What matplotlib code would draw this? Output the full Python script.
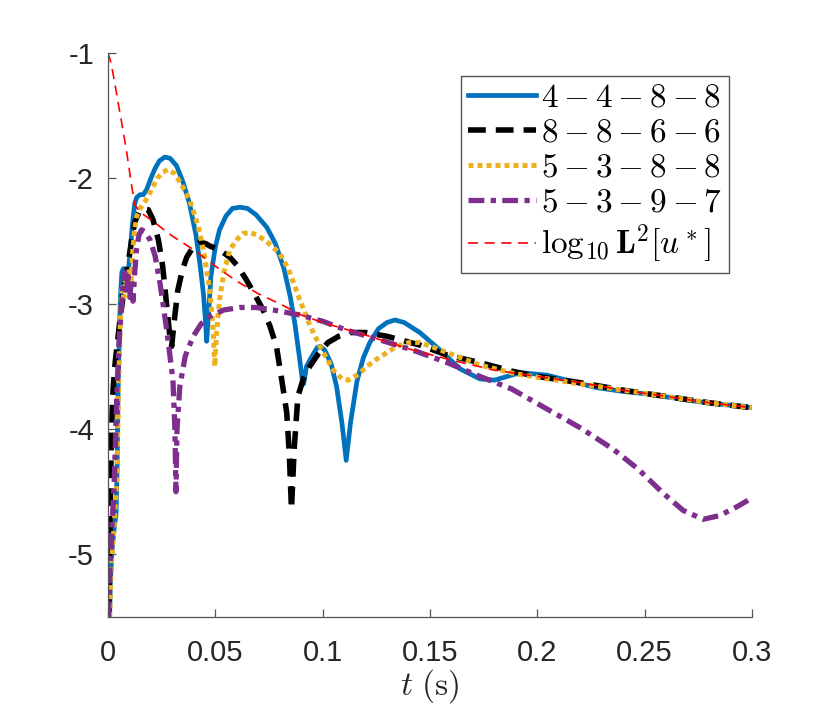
import numpy as np
import matplotlib
matplotlib.use("Agg")
import matplotlib.pyplot as plt

plt.rcParams["font.family"] = ["Liberation Sans", "DejaVu Sans"]
plt.rcParams["mathtext.fontset"] = "cm"
plt.rcParams["axes.unicode_minus"] = False

# 4-4-8-8
t_blue = [0.0008, 0.0012, 0.002, 0.003, 0.0038, 0.0043, 0.0047, 0.0052, 0.0058, 0.0065,
          0.0072, 0.008, 0.0088, 0.0095, 0.0105, 0.0115, 0.0125, 0.0135, 0.015, 0.0165,
          0.018, 0.02, 0.022, 0.024, 0.0265, 0.029, 0.032, 0.035, 0.038, 0.041,
          0.043, 0.0445, 0.0455, 0.046, 0.0468, 0.048, 0.05, 0.052, 0.055, 0.058,
          0.0615, 0.065, 0.069, 0.074, 0.078, 0.082, 0.085, 0.087, 0.089, 0.0905,
          0.0912, 0.0925, 0.095, 0.0975, 0.099, 0.101, 0.104, 0.1065, 0.109, 0.111,
          0.113, 0.116, 0.119, 0.122, 0.126, 0.13, 0.1337, 0.138, 0.1453, 0.1547,
          0.164, 0.1733, 0.18, 0.186, 0.192, 0.2045, 0.216, 0.2277, 0.24, 0.251,
          0.2743, 0.3]
y_blue = [-5.5, -5.2, -4.95, -4.78, -4.68, -4.3, -3.75, -3.35, -2.95, -2.75,
          -2.72, -2.8, -2.83, -2.75, -2.55, -2.35, -2.2, -2.15, -2.13, -2.13,
          -2.09, -2.0, -1.92, -1.86, -1.83, -1.84, -1.9, -2.03, -2.2, -2.45,
          -2.7, -2.92, -3.15, -3.3, -3.1, -2.78, -2.55, -2.41, -2.3, -2.24,
          -2.23, -2.24, -2.29, -2.39, -2.52, -2.72, -2.95, -3.15, -3.4, -3.6,
          -3.64, -3.5, -3.42, -3.35, -3.34, -3.37, -3.48, -3.66, -3.95, -4.25,
          -3.95, -3.62, -3.43, -3.31, -3.2, -3.15, -3.13, -3.15, -3.23, -3.37,
          -3.52, -3.6, -3.61, -3.58, -3.55, -3.57, -3.62, -3.67, -3.7, -3.72,
          -3.78, -3.83]

# 8-8-6-6
t_black = [0.0003, 0.0008, 0.0012, 0.0016, 0.002, 0.0025, 0.0035, 0.0045, 0.0056, 0.007,
           0.0082, 0.0095, 0.011, 0.0125, 0.0145, 0.0165, 0.0188, 0.021, 0.0235, 0.0255,
           0.0273, 0.0288, 0.0297, 0.0308, 0.0326, 0.0347, 0.0367, 0.04, 0.0428, 0.0455,
           0.0475, 0.052, 0.0568, 0.0605, 0.0645, 0.0685, 0.0723, 0.0755, 0.0785, 0.081,
           0.0833, 0.0845, 0.0855, 0.0868, 0.0885, 0.091, 0.094, 0.098, 0.1025, 0.1075,
           0.1127, 0.12, 0.13, 0.1453, 0.158, 0.1733, 0.1887, 0.2, 0.22, 0.24,
           0.26, 0.28, 0.3]
y_black = [-5.5, -5.0, -4.5, -4.1, -3.85, -3.66, -3.45, -3.3, -3.13, -2.95,
           -2.8, -2.67, -2.5, -2.35, -2.27, -2.24, -2.25, -2.33, -2.49, -2.7,
           -3.0, -3.25, -3.34, -3.15, -2.89, -2.73, -2.63, -2.54, -2.51, -2.52,
           -2.54, -2.57, -2.63, -2.7, -2.81, -2.93, -3.05, -3.18, -3.34, -3.61,
           -3.87, -4.2, -4.64, -4.15, -3.74, -3.6, -3.5, -3.4, -3.31, -3.26,
           -3.23, -3.23, -3.26, -3.33, -3.41, -3.47, -3.54, -3.58, -3.63, -3.69,
           -3.74, -3.79, -3.83]

# 5-3-8-8
t_yellow = [0.0008, 0.0015, 0.003, 0.0042, 0.0048, 0.0055, 0.0062, 0.0068, 0.0075, 0.0082,
            0.009, 0.0098, 0.0106, 0.0115, 0.0125, 0.0135, 0.015, 0.0175, 0.02, 0.023,
            0.0255, 0.028, 0.031, 0.034, 0.038, 0.041, 0.043, 0.045, 0.0475, 0.049,
            0.0498, 0.0505, 0.052, 0.054, 0.0568, 0.06, 0.063, 0.066, 0.069, 0.073,
            0.077, 0.08, 0.084, 0.0894, 0.094, 0.0988, 0.105, 0.109, 0.112, 0.116,
            0.1236, 0.1345, 0.14, 0.1453, 0.152, 0.158, 0.1733, 0.19, 0.2012, 0.22,
            0.24, 0.26, 0.28, 0.3]
y_yellow = [-5.5, -5.1, -4.75, -4.4, -3.8, -3.3, -2.95, -2.85, -2.95, -2.78,
            -2.9, -2.72, -2.88, -2.6, -2.4, -2.3, -2.24, -2.18, -2.1, -2.0,
            -1.95, -1.93, -1.96, -2.04, -2.17, -2.32, -2.45, -2.62, -2.9, -3.2,
            -3.5, -3.25, -2.97, -2.75, -2.57, -2.49, -2.44, -2.43, -2.45, -2.49,
            -2.55, -2.6, -2.72, -2.97, -3.17, -3.34, -3.53, -3.6, -3.61, -3.57,
            -3.46, -3.34, -3.31, -3.31, -3.35, -3.39, -3.49, -3.56, -3.59, -3.64,
            -3.69, -3.74, -3.79, -3.83]

# 5-3-9-7
t_purple = [0.0003, 0.001, 0.002, 0.003, 0.0042, 0.0052, 0.0065, 0.0072, 0.0079, 0.0086,
            0.0093, 0.0102, 0.011, 0.0117, 0.0125, 0.0133, 0.0145, 0.0157, 0.0175, 0.0196,
            0.022, 0.0243, 0.026, 0.028, 0.0303, 0.0312, 0.0317, 0.0322, 0.0335, 0.036,
            0.0397, 0.0435, 0.0475, 0.054, 0.0615, 0.069, 0.077, 0.0894, 0.1, 0.111,
            0.125, 0.142, 0.158, 0.1733, 0.188, 0.2045, 0.22, 0.2353, 0.247, 0.2585,
            0.268, 0.2773, 0.285, 0.293, 0.3]
y_purple = [-5.5, -5.1, -4.75, -4.4, -3.7, -3.3, -2.97, -2.8, -2.75, -2.92,
            -2.78, -2.95, -2.8, -2.98, -2.75, -2.57, -2.45, -2.41, -2.43, -2.49,
            -2.62, -2.84, -3.04, -3.29, -3.61, -4.0, -4.5, -4.0, -3.66, -3.42,
            -3.26, -3.16, -3.1, -3.05, -3.03, -3.03, -3.05, -3.09, -3.14, -3.21,
            -3.28, -3.37, -3.47, -3.58, -3.68, -3.84, -3.99, -4.16, -4.32, -4.51,
            -4.65, -4.72, -4.69, -4.62, -4.55]

# log10 L2[u*]
t_ref = [0.0, 0.001, 0.002, 0.003, 0.005, 0.007, 0.009, 0.011, 0.0125, 0.015,
         0.02, 0.03, 0.04, 0.05, 0.06, 0.07, 0.08, 0.09, 0.1, 0.12,
         0.14, 0.16, 0.18, 0.2, 0.22, 0.24, 0.26, 0.28, 0.3]
y_ref = [-1.0, -1.05, -1.13, -1.22, -1.42, -1.61, -1.82, -2.05, -2.21, -2.27,
         -2.33, -2.46, -2.57, -2.7, -2.82, -2.92, -3.0, -3.09, -3.15, -3.25,
         -3.36, -3.45, -3.53, -3.58, -3.63, -3.69, -3.74, -3.79, -3.83]

labels = [r"$4-4-8-8$", r"$8-8-6-6$", r"$5-3-8-8$", r"$5-3-9-7$",
          r"$\log_{10}\mathbf{L}^2[u^*]$"]

fig = plt.figure(figsize=(8.3, 7.13), dpi=100)
ax = fig.add_axes([0.130, 0.1346, 0.776, 0.791])

ax.plot(t_blue, y_blue, color="#0072BD", lw=3.4, label=labels[0])
ax.plot(t_black, y_black, color="black", lw=4, linestyle=(0, (3.2, 1.8)), label=labels[1])
ax.plot(t_yellow, y_yellow, color="#EDB120", lw=3.6, linestyle=(0, (1, 0.8)), label=labels[2])
ax.plot(t_purple, y_purple, color="#7E2F8E", lw=3.8, linestyle=(0, (3, 1.2, 1, 1.2)), label=labels[3])
ax.plot(t_ref, y_ref, color="#FF0000", lw=1.2, linestyle=(0, (6, 4)), label=labels[4])

ax.set_xlim(0, 0.3)
ax.set_ylim(-5.5, -1)
ax.set_xticks([0, 0.05, 0.1, 0.15, 0.2, 0.25, 0.3])
ax.set_xticklabels(["0", "0.05", "0.1", "0.15", "0.2", "0.25", "0.3"])
ax.set_yticks([-5, -4, -3, -2, -1])
ax.set_yticklabels(["-5", "-4", "-3", "-2", "-1"])

for s in ["top", "right"]:
    ax.spines[s].set_visible(False)
for s in ["left", "bottom"]:
    ax.spines[s].set_color("#555555")
    ax.spines[s].set_linewidth(0.9)
ax.tick_params(direction="in", length=6, width=0.9, color="#555555",
               labelsize=21, labelcolor="#262626", pad=10)
ax.tick_params(axis="x", pad=16)

ax.set_xlabel(r"$t\ (\mathrm{s})$", fontsize=24, color="#262626", labelpad=0)

leg = ax.legend(loc="upper right", bbox_to_anchor=(0.9645, 0.959), fontsize=24,
                handlelength=2.05, handletextpad=0.15, borderpad=0.2,
                borderaxespad=0, labelspacing=0.12, fancybox=False, framealpha=1)
leg.get_frame().set_edgecolor("#555555")
leg.get_frame().set_linewidth(1.0)

fig.savefig("out.png", dpi=100)
